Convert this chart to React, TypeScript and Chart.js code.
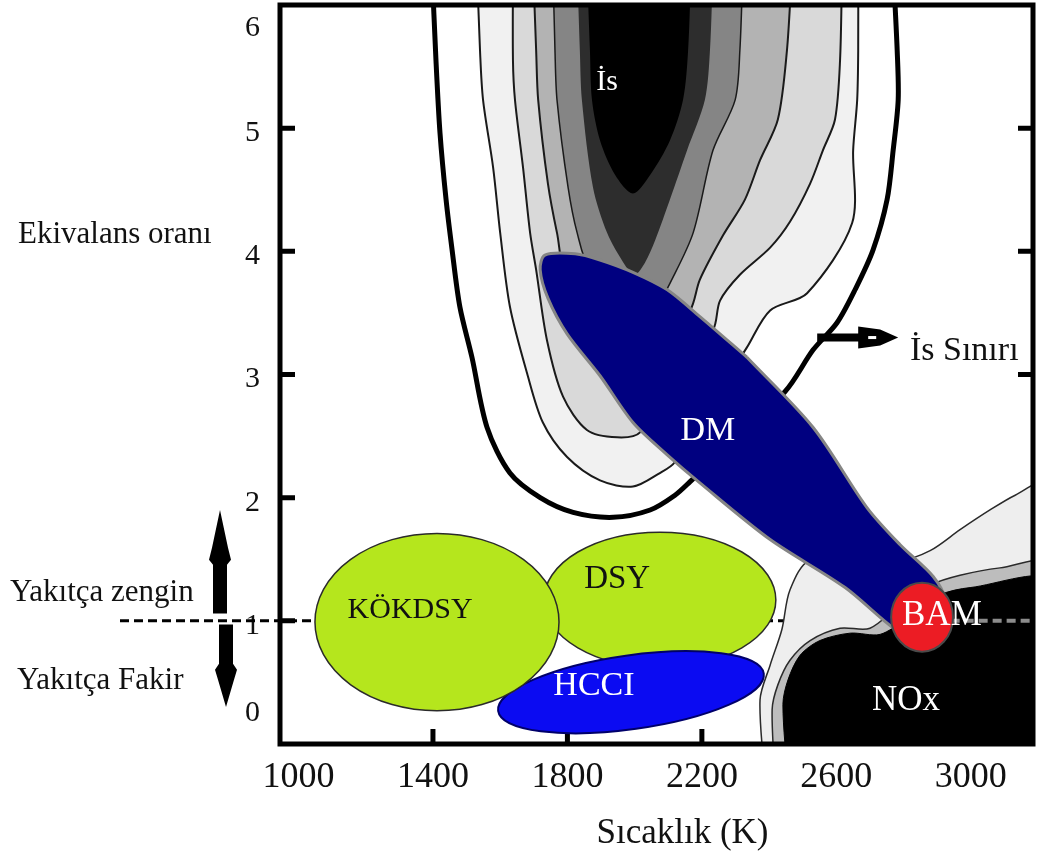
import React, { useEffect, useRef } from 'react';
import { Chart, registerables } from 'chart.js';

Chart.register(...registerables);

const FONT = "'Liberation Serif', 'Times New Roman', serif";

// ---- axes ----
const xMin = 945;
const xMax = 3185;
const xTickValues = [1000, 1400, 1800, 2200, 2600, 3000];
const yMin = 0;
const yMax = 6;
const yTickValues = [0, 1, 2, 3, 4, 5, 6];

// ---- texts ----
const xTitle = 'Sıcaklık (K)';
const yTitle = 'Ekivalans oranı';
const richLabel = 'Yakıtça zengin';
const leanLabel = 'Yakıtça Fakir';
const sootLimitLabel = 'İs Sınırı';

// ---- soot (İs) contour levels: [T (K), equivalence ratio] ----
const sootLevelA: [number, number][] = [[1397, 6.3], [1409, 5.55], [1421, 4.96], [1439, 4.42], [1457, 4.01], [1480, 3.55], [1516, 3.14], [1561, 2.57], [1629, 2.2], [1719, 2.0], [1817, 1.88], [1936, 1.84], [2046, 1.9], [2120, 2.02], [2165, 2.13], [2447, 2.86], [2531, 3.2], [2602, 3.42], [2656, 3.69], [2709, 4.01], [2751, 4.42], [2769, 4.82], [2784, 5.23], [2781, 5.63], [2769, 6.3]];
const sootLevelB: [number, number][] = [[1531, 6.3], [1540, 5.63], [1549, 5.23], [1579, 4.68], [1600, 4.15], [1629, 3.55], [1680, 3.01], [1727, 2.61], [1799, 2.33], [1897, 2.14], [1995, 2.09], [2075, 2.2], [2120, 2.29], [2334, 3.22], [2403, 3.52], [2513, 3.66], [2647, 4.23], [2650, 4.82], [2662, 5.23], [2665, 5.63], [2665, 6.3]];
const sootLevelC: [number, number][] = [[1638, 6.3], [1638, 5.55], [1644, 5.23], [1668, 4.68], [1689, 4.15], [1707, 3.85], [1739, 3.28], [1787, 2.82], [1858, 2.55], [1948, 2.49], [2016, 2.53], [2233, 3.36], [2254, 3.6], [2313, 3.81], [2403, 4.03], [2462, 4.24], [2522, 4.55], [2560, 4.82], [2596, 5.07], [2611, 5.55], [2617, 6.3]];
const sootLevelD: [number, number][] = [[1698, 6.3], [1707, 5.63], [1713, 5.23], [1742, 4.55], [1769, 4.15], [1802, 3.77], [2046, 3.12], [2165, 3.52], [2194, 3.77], [2263, 4.13], [2328, 4.42], [2373, 4.74], [2426, 5.07], [2453, 5.63], [2468, 6.3]];
const sootLevelE: [number, number][] = [[1757, 6.3], [1763, 5.63], [1769, 5.23], [1802, 4.52], [1829, 4.15], [1867, 3.85], [2016, 3.44], [2075, 3.6], [2105, 3.74], [2174, 4.15], [2233, 4.82], [2299, 5.23], [2313, 5.63], [2322, 6.3]];
const sootLevelF: [number, number][] = [[1829, 6.3], [1837, 5.63], [1843, 5.23], [1876, 4.52], [1918, 4.15], [1971, 3.89], [2001, 3.81], [2031, 3.91], [2061, 4.09], [2105, 4.42], [2156, 4.82], [2209, 5.23], [2224, 5.63], [2233, 6.3]];
const sootLevelG: [number, number][] = [[1858, 6.3], [1867, 5.63], [1873, 5.23], [1897, 4.9], [1942, 4.62], [1995, 4.47], [2046, 4.62], [2105, 4.9], [2144, 5.23], [2159, 5.63], [2168, 6.3]];

// ---- NOx contour levels ----
const noxLevel1: [number, number][] = [[2388, -0.3], [2373, 0.36], [2403, 0.64], [2438, 0.93], [2462, 1.25], [2522, 1.49], [2789, 1.49], [2879, 1.57], [2968, 1.74], [3057, 1.9], [3132, 2.02], [3250, 2.15], [3250, -0.3]];
const noxLevel2: [number, number][] = [[2418, -0.3], [2409, 0.28], [2426, 0.48], [2462, 0.68], [2522, 0.84], [2611, 0.94], [2700, 0.94], [2789, 1.13], [2879, 1.29], [2968, 1.37], [3087, 1.43], [3250, 1.46], [3250, -0.3]];
const noxLevel3: [number, number][] = [[2456, -0.3], [2441, 0.32], [2456, 0.52], [2492, 0.72], [2551, 0.84], [2641, 0.9], [2730, 0.89], [2804, 1.01], [2908, 1.21], [2998, 1.27], [3250, 1.31], [3250, -0.3]];

// ---- DM (diesel) region outline ----
const dmRegion: [number, number][] = [[2334, 3.14], [2531, 2.57], [2691, 1.92], [2789, 1.62], [2888, 1.36], [2923, 1.17], [2908, 0.97], [2849, 0.84], [2775, 0.93], [2626, 1.27], [2403, 1.66], [2194, 2.12], [2096, 2.35], [1995, 2.61], [1897, 2.99], [1799, 3.33], [1742, 3.62], [1719, 3.85], [1733, 3.97], [1823, 3.98], [1897, 3.93], [1995, 3.83], [2096, 3.69], [2194, 3.47], [2334, 3.14]];

// ---- elliptical regions ----
const ellipseNames = ['DSY', 'HCCI', 'KÖKDSY', 'BAM'];
const ellipseCenterT = [2075, 1989, 1412, 2855];
const ellipseCenterPhi = [1.17, 0.42, 0.99, 1.03];
const ellipseHalfWidthT = [345, 399, 363, 92];
const ellipseHalfHeightPhi = [0.55, 0.3, 0.72, 0.28];
const ellipseTiltDeg = [0, -8, 0, 0];

// ---- region labels ----
const labelTexts = ['İs', 'DM', 'KÖKDSY', 'DSY', 'HCCI', 'BAM', 'NOx'];
const labelT = [1918, 2218, 1332, 1948, 1879, 2914, 2807];
const labelPhi = [5.31, 2.47, 1.02, 1.27, 0.4, 0.97, 0.28];

// soot limit annotation
const sootLimitArrowT = [2543, 2784];
const sootLimitArrowPhi = 3.3;
const sootLimitTextT = 2819;
const sootLimitTextPhi = 3.12;

// ---- styles ----
const ellipseStyles: Record<string, { fill: string; stroke: string; width: number }> = {
  DSY: { fill: '#b5e61d', stroke: '#2a2a2a', width: 1.5 },
  HCCI: { fill: '#0b0bf2', stroke: '#00006a', width: 2 },
  'KÖKDSY': { fill: '#b5e61d', stroke: '#2a2a2a', width: 1.5 },
  BAM: { fill: '#ec1c24', stroke: '#4a4a4a', width: 2 },
};
const labelStyles = [
  { color: '#ffffff', size: 30 },
  { color: '#ffffff', size: 34 },
  { color: '#111111', size: 30 },
  { color: '#111111', size: 33 },
  { color: '#ffffff', size: 34 },
  { color: '#ffffff', size: 35 },
  { color: '#ffffff', size: 35 },
];

function poly(points: [number, number][], fill: string, stroke: string, width: number, order: number) {
  return {
    type: 'scatter' as const,
    data: points.map(([x, y]) => ({ x, y })),
    showLine: true,
    fill: 'shape',
    backgroundColor: fill,
    borderColor: stroke,
    borderWidth: width,
    pointRadius: 0,
    pointHoverRadius: 0,
    tension: 0.3,
    order,
    clip: 0,
  };
}

const overlayPlugin = {
  id: 'overlay',
  beforeDatasetsDraw(chart: any) {
    const { ctx, chartArea: a, scales } = chart;
    const x = scales.x;
    const y = scales.y;
    ctx.save();
    const y1 = y.getPixelForValue(1);
    ctx.strokeStyle = '#000';
    ctx.lineWidth = 3;
    ctx.setLineDash([9, 5]);
    ctx.beginPath();
    ctx.moveTo(120, y1);
    ctx.lineTo(a.right, y1);
    ctx.stroke();
    ctx.setLineDash([]);
    ctx.lineWidth = 5;
    ctx.beginPath();
    for (const v of yTickValues) {
      if (v <= yMin || v >= yMax) continue;
      const py = y.getPixelForValue(v);
      ctx.moveTo(a.left, py);
      ctx.lineTo(a.left + 15, py);
      ctx.moveTo(a.right - 15, py);
      ctx.lineTo(a.right, py);
    }
    for (const v of xTickValues) {
      if (v < 1400 || v > 2600) continue;
      const px = x.getPixelForValue(v);
      ctx.moveTo(px, a.bottom);
      ctx.lineTo(px, a.bottom - 15);
    }
    ctx.stroke();
    ctx.restore();
  },
  afterDatasetsDraw(chart: any) {
    const { ctx, chartArea: a, scales } = chart;
    const x = scales.x;
    const y = scales.y;
    ctx.save();
    ctx.beginPath();
    ctx.rect(a.left, a.top, a.width, a.height);
    ctx.clip();
    const y1 = y.getPixelForValue(1);
    ctx.strokeStyle = '#8c8c8c';
    ctx.lineWidth = 4;
    ctx.setLineDash([9, 5]);
    ctx.beginPath();
    ctx.moveTo(x.getPixelForValue(2940), y1);
    ctx.lineTo(a.right, y1);
    ctx.stroke();
    ctx.setLineDash([]);
    ellipseNames.forEach((name, i) => {
      const cx = x.getPixelForValue(ellipseCenterT[i]);
      const cy = y.getPixelForValue(ellipseCenterPhi[i]);
      const rx = Math.abs(x.getPixelForValue(ellipseCenterT[i] + ellipseHalfWidthT[i]) - cx);
      const ry = Math.abs(y.getPixelForValue(ellipseCenterPhi[i] + ellipseHalfHeightPhi[i]) - cy);
      const st = ellipseStyles[name];
      ctx.beginPath();
      ctx.ellipse(cx, cy, rx, ry, (ellipseTiltDeg[i] * Math.PI) / 180, 0, Math.PI * 2);
      ctx.fillStyle = st.fill;
      ctx.fill();
      ctx.lineWidth = st.width;
      ctx.strokeStyle = st.stroke;
      ctx.stroke();
    });
    const ay = y.getPixelForValue(sootLimitArrowPhi);
    const ax0 = x.getPixelForValue(sootLimitArrowT[0]);
    const ax1 = x.getPixelForValue(sootLimitArrowT[1]);
    ctx.fillStyle = '#000';
    ctx.strokeStyle = '#000';
    ctx.lineWidth = 8;
    ctx.beginPath();
    ctx.moveTo(ax0, ay);
    ctx.lineTo(ax1 - 34, ay);
    ctx.stroke();
    ctx.beginPath();
    ctx.moveTo(ax1 - 40, ay - 11);
    ctx.lineTo(ax1 - 18, ay - 8);
    ctx.lineTo(ax1, ay);
    ctx.lineTo(ax1 - 18, ay + 8);
    ctx.lineTo(ax1 - 40, ay + 11);
    ctx.closePath();
    ctx.fill();
    ctx.fillStyle = '#fff';
    ctx.fillRect(ax1 - 30, ay - 1.5, 8, 3);
    ctx.textAlign = 'center';
    ctx.textBaseline = 'alphabetic';
    labelTexts.forEach((t, i) => {
      ctx.font = `${labelStyles[i].size}px ${FONT}`;
      ctx.fillStyle = labelStyles[i].color;
      ctx.fillText(t, x.getPixelForValue(labelT[i]), y.getPixelForValue(labelPhi[i]));
    });
    ctx.restore();
    ctx.save();
    ctx.font = `34px ${FONT}`;
    ctx.fillStyle = '#111';
    ctx.textAlign = 'left';
    ctx.textBaseline = 'alphabetic';
    ctx.fillText(sootLimitLabel, x.getPixelForValue(sootLimitTextT), y.getPixelForValue(sootLimitTextPhi));
    ctx.restore();
  },
  afterDraw(chart: any) {
    const { ctx, chartArea: a, scales } = chart;
    const y = scales.y;
    ctx.save();
    ctx.strokeStyle = '#000';
    ctx.lineWidth = 5;
    ctx.strokeRect(a.left, a.top, a.width, a.height);
    ctx.fillStyle = '#111';
    ctx.textAlign = 'left';
    ctx.textBaseline = 'alphabetic';
    ctx.font = `31px ${FONT}`;
    ctx.fillText(yTitle, 18, y.getPixelForValue(4.07));
    ctx.fillText(richLabel, 10, y.getPixelForValue(1.16));
    ctx.fillText(leanLabel, 17, y.getPixelForValue(0.45));
    ctx.textAlign = 'center';
    ctx.font = `35px ${FONT}`;
    ctx.fillText(xTitle, (a.left + a.right) / 2 + 26, 843);
    ctx.fillStyle = '#000';
    const ux = a.left - 60;
    const uTip = y.getPixelForValue(1.9);
    const uBulge = y.getPixelForValue(1.48);
    const uBase = y.getPixelForValue(1.06);
    ctx.beginPath();
    ctx.moveTo(ux, uTip);
    ctx.lineTo(ux + 8, uBulge - 14);
    ctx.lineTo(ux + 11, uBulge - 2);
    ctx.lineTo(ux + 7, uBulge + 3);
    ctx.lineTo(ux + 7, uBase);
    ctx.lineTo(ux - 7, uBase);
    ctx.lineTo(ux - 7, uBulge + 3);
    ctx.lineTo(ux - 11, uBulge - 2);
    ctx.lineTo(ux - 8, uBulge - 14);
    ctx.closePath();
    ctx.fill();
    const dx = a.left - 54;
    const dTop = y.getPixelForValue(0.97);
    const dBulge = y.getPixelForValue(0.62);
    const dTip = y.getPixelForValue(0.3);
    ctx.beginPath();
    ctx.moveTo(dx - 7, dTop);
    ctx.lineTo(dx + 7, dTop);
    ctx.lineTo(dx + 7, dBulge - 4);
    ctx.lineTo(dx + 11, dBulge + 2);
    ctx.lineTo(dx + 8, dBulge + 12);
    ctx.lineTo(dx, dTip);
    ctx.lineTo(dx - 8, dBulge + 12);
    ctx.lineTo(dx - 11, dBulge + 2);
    ctx.lineTo(dx - 7, dBulge - 4);
    ctx.closePath();
    ctx.fill();
    ctx.restore();
  },
};

export default function App() {
  const canvasRef = useRef<HTMLCanvasElement | null>(null);

  useEffect(() => {
    const canvas = canvasRef.current;
    if (!canvas) return;
    const datasets: any[] = [
      poly(sootLevelA, '#ffffff', '#000000', 5, 30),
      poly(sootLevelB, '#f1f1f1', '#1a1a1a', 2, 29),
      poly(sootLevelC, '#d9d9d9', '#1a1a1a', 2, 28),
      poly(sootLevelD, '#b3b3b3', '#1a1a1a', 2, 27),
      poly(sootLevelE, '#858585', '#1a1a1a', 1.5, 26),
      poly(sootLevelF, '#2d2d2d', 'rgba(0,0,0,0)', 0, 25),
      poly(sootLevelG, '#000000', 'rgba(0,0,0,0)', 0, 24),
      poly(noxLevel1, '#eeeeee', '#2a2a2a', 1.5, 13),
      poly(noxLevel2, '#bdbdbd', '#2a2a2a', 1.5, 12),
      poly(noxLevel3, '#000000', '#000000', 1, 11),
      poly(dmRegion, '#000080', '#858585', 3, 1),
    ];
    const chart = new Chart(canvas, {
      type: 'scatter',
      data: { datasets },
      plugins: [overlayPlugin],
      options: {
        animation: false,
        responsive: false,
        events: [],
        layout: { padding: { top: 5, right: 12, left: 0, bottom: 0 } },
        elements: { line: { capBezierPoints: false } },
        plugins: { legend: { display: false }, tooltip: { enabled: false } },
        scales: {
          x: {
            type: 'linear',
            min: xMin,
            max: xMax,
            afterBuildTicks: (s: any) => {
              s.ticks = xTickValues.map((v) => ({ value: v }));
            },
            afterFit: (s: any) => {
              s.height = 114;
              s.paddingLeft = 0;
              s.paddingRight = 0;
            },
            grid: { display: false, drawTicks: false },
            border: { display: false },
            ticks: {
              autoSkip: false,
              maxRotation: 0,
              padding: 12,
              color: '#111',
              font: { family: FONT, size: 36 },
              callback: (v: any) => String(v),
            },
          },
          y: {
            type: 'linear',
            min: yMin,
            max: yMax,
            afterBuildTicks: (s: any) => {
              s.ticks = yTickValues.map((v) => ({ value: v }));
            },
            afterFit: (s: any) => {
              s.width = 280;
              s.paddingTop = 0;
              s.paddingBottom = 0;
            },
            grid: { display: false, drawTicks: false },
            border: { display: false },
            ticks: {
              padding: 20,
              labelOffset: 5,
              color: '#111',
              font: { family: FONT, size: 30 },
              callback: (v: any) => {
                if (v === yMax) return ['', String(v)];
                if (v === yMin) return [String(v), '', ''];
                return String(v);
              },
            },
          },
        },
      } as any,
    });
    return () => chart.destroy();
  }, []);

  return (
    <div style={{ position: 'absolute', left: 0, top: 0, width: 1045, height: 858, background: '#fff' }}>
      <canvas ref={canvasRef} width={1045} height={858} style={{ display: 'block' }} />
    </div>
  );
}
